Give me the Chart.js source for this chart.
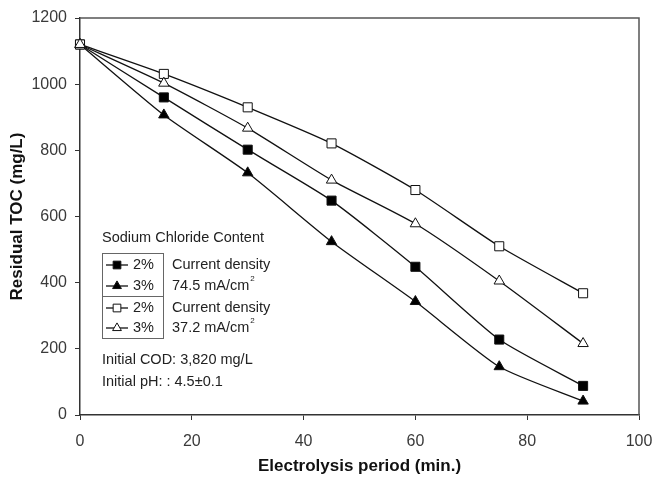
<!DOCTYPE html>
<html>
<head>
<meta charset="utf-8">
<script src="https://cdn.jsdelivr.net/npm/chart.js@4/dist/chart.umd.min.js"></script>
<style>
html,body{margin:0;padding:0;background:#fff;}
#wrap{position:relative;width:656px;height:477px;}
</style>
</head>
<body>
<div id="wrap"><canvas id="c" width="656" height="477"></canvas></div>
<script>
const minutes = [0, 15, 30, 45, 60, 75, 90];
const nacl2_745 = [1120, 960, 802, 648, 448, 228, 88];
const nacl3_745 = [1120, 907, 732, 524, 343, 146, 42];
const nacl2_372 = [1120, 1031, 930, 821, 680, 510, 368];
const nacl3_372 = [1120, 1003, 867, 710, 578, 405, 216];
const seriesNames = ['2% (74.5 mA/cm²)', '3% (74.5 mA/cm²)', '2% (37.2 mA/cm²)', '3% (37.2 mA/cm²)'];
const legendTitle = 'Sodium Chloride Content';
const legendRows = [
  {pct: '2%', side: 'Current density'},
  {pct: '3%', side: '74.5 mA/cm', sup: '2'},
  {pct: '2%', side: 'Current density'},
  {pct: '3%', side: '37.2 mA/cm', sup: '2'}
];
const notes = ['Initial COD: 3,820 mg/L', 'Initial pH: : 4.5\u00b10.1'];
const xTitle = 'Electrolysis period (min.)';
const yTitle = 'Residual TOC (mg/L)';

const FONT = '"Liberation Sans", Arial, sans-serif';
const LF = '14.5px ' + FONT;
const styles = [
  {ps: 'rect', fill: '#000', r: 6.4},
  {ps: 'triangle', fill: '#000', r: 6},
  {ps: 'rect', fill: '#fff', r: 6.4},
  {ps: 'triangle', fill: '#fff', r: 6}
];
const allData = [nacl2_745, nacl3_745, nacl2_372, nacl3_372];

const datasets = allData.map((d, i) => ({
  label: seriesNames[i],
  data: minutes.map((m, j) => ({x: m, y: d[j]})),
  borderColor: '#111',
  borderWidth: 1.3,
  pointStyle: styles[i].ps,
  pointRadius: styles[i].r,
  pointBackgroundColor: styles[i].fill,
  pointBorderColor: '#111',
  pointBorderWidth: 1,
  tension: 0.2,
  clip: false,
  fill: false
})).reverse();

const frame = {
  id: 'frame',
  beforeDatasetsDraw(chart) {
    const {ctx, chartArea: a} = chart;
    ctx.save();
    ctx.strokeStyle = '#555';
    ctx.lineWidth = 1.5;
    ctx.beginPath();
    ctx.moveTo(a.left, a.top);
    ctx.lineTo(a.right, a.top);
    ctx.lineTo(a.right, a.bottom);
    ctx.stroke();
    ctx.restore();
  },
  afterDraw(chart) {
    const ctx = chart.ctx;
    ctx.save();
    ctx.fillStyle = '#222';
    ctx.font = LF;
    ctx.textBaseline = 'middle';
    ctx.textAlign = 'left';
    ctx.fillText(legendTitle, 102, 238);
    ctx.strokeStyle = '#666';
    ctx.lineWidth = 1;
    ctx.strokeRect(102.5, 253.5, 61, 85);
    ctx.beginPath();
    ctx.moveTo(102.5, 296.5); ctx.lineTo(163.5, 296.5); ctx.stroke();
    const rowsY = [265, 286, 308, 328];
    legendRows.forEach((r, i) => {
      const y = rowsY[i];
      ctx.strokeStyle = '#111';
      ctx.lineWidth = 1.3;
      ctx.beginPath(); ctx.moveTo(106, y); ctx.lineTo(128, y); ctx.stroke();
      ctx.fillStyle = styles[i].fill;
      ctx.strokeStyle = '#111';
      ctx.lineWidth = 1;
      Chart.helpers.drawPoint(ctx, {pointStyle: styles[i].ps, radius: styles[i].r * 0.85, borderWidth: 1}, 117, y);
      ctx.fillStyle = '#222';
      ctx.font = LF;
      ctx.fillText(r.pct, 133, y);
      ctx.fillText(r.side, 172, y);
      if (r.sup) {
        const w = ctx.measureText(r.side).width;
        ctx.font = '8px ' + FONT;
        ctx.fillText(r.sup, 172 + w + 1, y - 7);
      }
    });
    ctx.font = LF;
    ctx.fillStyle = '#222';
    ctx.fillText(notes[0], 102, 360);
    ctx.fillText(notes[1], 102, 382);
    ctx.restore();
  }
};

new Chart(document.getElementById('c'), {
  type: 'line',
  data: {datasets},
  options: {
    responsive: false,
    animation: false,
    layout: {padding: {top: 18, right: 17, left: 0, bottom: 0}},
    plugins: {legend: {display: false}, tooltip: {enabled: false}},
    scales: {
      x: {
        type: 'linear', min: 0, max: 100,
        ticks: {stepSize: 20, color: '#3a3a3a', font: {size: 16, family: FONT}, padding: 12, maxRotation: 0,
                callback: v => String(v)},
        grid: {drawOnChartArea: false, drawTicks: true, tickLength: 5, color: '#333'},
        border: {color: '#333', width: 1.5},
        title: {display: true, text: xTitle, color: '#111', font: {size: 17, weight: 'bold', family: FONT}, padding: {top: 0, bottom: 0}},
        afterFit(s) { s.height = 62; s.paddingLeft = 0; s.paddingRight = 0; }
      },
      y: {
        min: 0, max: 1200,
        ticks: {stepSize: 200, color: '#3a3a3a', font: {size: 16, family: FONT}, padding: 8,
                callback: v => String(v)},
        grid: {drawOnChartArea: false, drawTicks: true, tickLength: 5, color: '#333'},
        border: {color: '#333', width: 1.5},
        title: {display: true, text: yTitle, color: '#111', font: {size: 17, weight: 'bold', family: FONT}, padding: {top: 7, bottom: 0}},
        afterFit(s) { s.width = 80; s.paddingTop = 0; s.paddingBottom = 0; }
      }
    }
  },
  plugins: [frame]
});
</script>
</body>
</html>
